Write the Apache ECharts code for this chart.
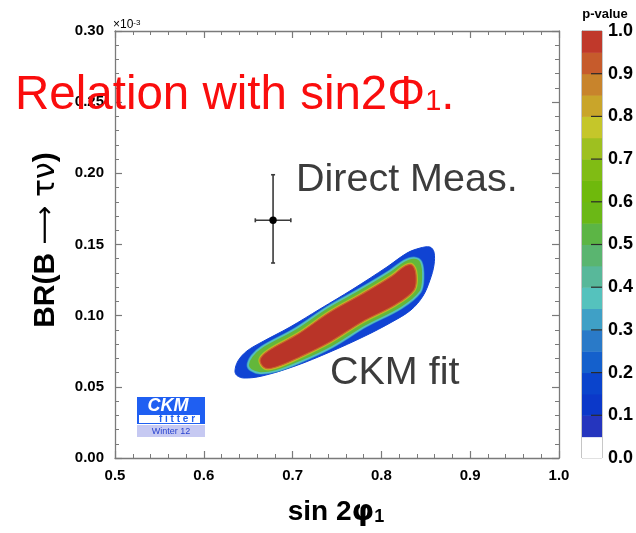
<!DOCTYPE html>
<html>
<head>
<meta charset="utf-8">
<script src="https://cdn.jsdelivr.net/npm/echarts/dist/echarts.min.js"></script>
<style>
  html, body { margin: 0; padding: 0; background: #ffffff; }
  #chart { width: 636px; height: 533px; }
</style>
</head>
<body>
<div id="chart"></div>
<script>
// Axis ranges (BR in units of 1e-3)
const xRange = [0.5, 1.0];
const yRange = [0.0, 0.30];

// CKM fit p-value contours in (sin2phi1, BR x1e3) space
// p = 0.05 boundary
const contourP05 = [[0.6351,0.0611],[0.6385,0.0682],[0.6486,0.0752],[0.6655,0.0815],[0.6971,0.0920],[0.7309,0.1047],[0.7680,0.1187],[0.8063,0.1342],[0.8288,0.1440],[0.8435,0.1475],[0.8547,0.1482],[0.8592,0.1447],[0.8592,0.1356],[0.8547,0.1251],[0.8468,0.1138],[0.8333,0.1040],[0.8119,0.0956],[0.7815,0.0857],[0.7421,0.0745],[0.7027,0.0646],[0.6655,0.0576],[0.6453,0.0562],[0.6374,0.0579]];
// p = 0.45 boundary
const contourP45 = [[0.6498,0.0653],[0.6543,0.0717],[0.6655,0.0780],[0.7027,0.0906],[0.7399,0.1061],[0.7759,0.1187],[0.8097,0.1314],[0.8255,0.1384],[0.8367,0.1405],[0.8446,0.1377],[0.8468,0.1265],[0.8435,0.1166],[0.8221,0.1054],[0.7827,0.0927],[0.7444,0.0780],[0.7083,0.0674],[0.6813,0.0611],[0.6633,0.0597],[0.6532,0.0618]];
// p = 0.95 boundary
const contourP95 = [[0.6633,0.0689],[0.6723,0.0752],[0.7061,0.0871],[0.7421,0.1026],[0.7782,0.1152],[0.8119,0.1279],[0.8266,0.1349],[0.8345,0.1356],[0.8390,0.1286],[0.8367,0.1180],[0.8153,0.1075],[0.7782,0.0956],[0.7421,0.0815],[0.7083,0.0710],[0.6813,0.0639],[0.6689,0.0632]];

// Direct measurement with errors
const measX = [0.678];
const measY = [0.167];
const measXErr = [0.020];
const measYErrUp = [0.032];
const measYErrDown = [0.030];

// p-value colour scale
const colorbarEdges = [0,0.05,0.10,0.15,0.20,0.25,0.30,0.35,0.40,0.45,0.50,0.55,0.60,0.65,0.70,0.75,0.80,0.85,0.90,0.95,1.00];
const colorbarColors = ['#ffffff','#2535be','#0b38c9','#0a44cc','#1460cc','#2a7ac8','#3fa0c6','#55c2bd','#58b89a','#5ab570','#5cb545','#6bb816','#6fb90c','#80bc14','#9ec020','#c5c62a','#c9a52a','#c8842c','#c65b2c','#c0392b'];
const colorbarTicks = [0.1,0.2,0.3,0.4,0.5,0.6,0.7,0.8,0.9];

// drawing layers for the filled contours (outer to inner)
const contourLayers = [
  { poly: contourP05, fill: '#1043d3', stroke: '#1043d3', width: 1 },
  { poly: contourP45, fill: '#63b73a', stroke: '#2c7ccf', width: 3.0 },
  { poly: contourP45, fill: '#63b73a', stroke: '#56c0bb', width: 1.7 },
  { poly: contourP95, fill: '#b93428', stroke: '#a2c223', width: 3.6 },
  { poly: contourP95, fill: '#b93428', stroke: '#cdb42a', width: 2.4 },
  { poly: contourP95, fill: '#b93428', stroke: '#c8652c', width: 1.2 }
];

const FONT = 'Liberation Sans, Arial, Helvetica, sans-serif';
const frameColor = '#7a7a7a';

function frameAxis(extra) {
  return Object.assign({
    type: 'value',
    gridIndex: 0,
    axisLine: { show: true, onZero: false, lineStyle: { color: frameColor, width: 1.3 } },
    axisTick: { show: true, inside: true, length: 7, lineStyle: { color: frameColor, width: 1.2 } },
    minorTick: { show: true, splitNumber: 5, length: 4, lineStyle: { color: frameColor, width: 1 } },
    splitLine: { show: false },
    minorSplitLine: { show: false },
    axisLabel: { show: false }
  }, extra);
}

const tickLabel = { show: true, color: '#000', fontSize: 15, fontWeight: 'bold', fontFamily: FONT };

const chart = echarts.init(document.getElementById('chart'), null, { renderer: 'canvas' });

const option = {
  animation: false,
  backgroundColor: '#ffffff',
  grid: [
    { left: 115, right: 77, top: 31, bottom: 75 },
    { left: 582, width: 22, top: 31, bottom: 75, show: true, borderColor: '#8a8a8a', borderWidth: 1 }
  ],
  xAxis: [
    frameAxis({ min: xRange[0], max: xRange[1], interval: 0.1, position: 'bottom',
      axisLabel: Object.assign({}, tickLabel, { margin: 10, formatter: v => v.toFixed(1) }) }),
    frameAxis({ min: xRange[0], max: xRange[1], interval: 0.1, position: 'top' }),
    { type: 'value', gridIndex: 1, min: 0, max: 1, show: false }
  ],
  yAxis: [
    frameAxis({ min: yRange[0], max: yRange[1], interval: 0.05, position: 'left',
      axisLabel: Object.assign({}, tickLabel, { margin: 11, formatter: v => v.toFixed(2) }) }),
    frameAxis({ min: yRange[0], max: yRange[1], interval: 0.05, position: 'right' }),
    { type: 'value', gridIndex: 1, min: 0, max: 1, interval: 0.1, position: 'right',
      axisLine: { show: true, lineStyle: { color: '#8a8a8a', width: 1 } },
      axisTick: { show: false },
      splitLine: { show: false },
      axisLabel: { show: true, color: '#000', fontSize: 18, fontWeight: 'bold', fontFamily: FONT, margin: 6,
        formatter: v => v.toFixed(1) } }
  ],
  series: [
    {
      type: 'custom',
      name: 'CKM fit',
      xAxisIndex: 0, yAxisIndex: 0,
      z: 3,
      data: contourLayers.map((l, i) => [i]),
      renderItem: function (params, api) {
        const layer = contourLayers[params.dataIndex];
        const pts = layer.poly.map(p => api.coord(p));
        return {
          type: 'polygon',
          shape: { points: pts, smooth: 0.35 },
          style: { fill: layer.fill, stroke: layer.stroke, lineWidth: layer.width, lineJoin: 'round' }
        };
      }
    },
    {
      type: 'custom',
      name: 'Direct Meas.',
      xAxisIndex: 0, yAxisIndex: 0,
      z: 4,
      data: measX.map((x, i) => [x, measY[i], measXErr[i], measYErrUp[i], measYErrDown[i]]),
      renderItem: function (params, api) {
        const x = api.value(0), y = api.value(1);
        const ex = api.value(2), eu = api.value(3), ed = api.value(4);
        const c = api.coord([x, y]);
        const l = api.coord([x - ex, y]), r = api.coord([x + ex, y]);
        const t = api.coord([x, y + eu]), b = api.coord([x, y - ed]);
        const ls = { stroke: '#3a3a3a', lineWidth: 1.6 };
        const cap = 2;
        return {
          type: 'group',
          children: [
            { type: 'line', shape: { x1: l[0], y1: l[1], x2: r[0], y2: r[1] }, style: ls },
            { type: 'line', shape: { x1: t[0], y1: t[1], x2: b[0], y2: b[1] }, style: ls },
            { type: 'line', shape: { x1: l[0], y1: l[1] - cap, x2: l[0], y2: l[1] + cap }, style: ls },
            { type: 'line', shape: { x1: r[0], y1: r[1] - cap, x2: r[0], y2: r[1] + cap }, style: ls },
            { type: 'line', shape: { x1: t[0] - cap, y1: t[1], x2: t[0] + cap, y2: t[1] }, style: ls },
            { type: 'line', shape: { x1: b[0] - cap, y1: b[1], x2: b[0] + cap, y2: b[1] }, style: ls },
            { type: 'circle', shape: { cx: c[0], cy: c[1], r: 3.7 }, style: { fill: '#000' } }
          ]
        };
      }
    },
    {
      type: 'custom',
      name: 'p-value',
      xAxisIndex: 2, yAxisIndex: 2,
      z: 2,
      data: colorbarColors.map((c, i) => [i]),
      renderItem: function (params, api) {
        const i = params.dataIndex;
        const p0 = api.coord([0, colorbarEdges[i + 1]]);
        const p1 = api.coord([1, colorbarEdges[i]]);
        return {
          type: 'rect',
          shape: { x: p0[0], y: p0[1], width: p1[0] - p0[0], height: p1[1] - p0[1] + 0.5 },
          style: { fill: colorbarColors[i] }
        };
      }
    },
    {
      type: 'custom',
      name: 'p-value ticks',
      xAxisIndex: 2, yAxisIndex: 2,
      z: 3,
      data: colorbarTicks.map(v => [1, v]),
      renderItem: function (params, api) {
        const p = api.coord([api.value(0), api.value(1)]);
        return {
          type: 'line',
          shape: { x1: p[0] - 11, y1: p[1], x2: p[0], y2: p[1] },
          style: { stroke: '#2a2a2a', lineWidth: 1.2 }
        };
      }
    }
  ],
  graphic: {
    elements: [
      // exponent of the y axis
      { type: 'text', z: 50, style: { x: 113, y: 31, verticalAlign: 'bottom', align: 'left',
          text: '{a|×10}{b|-3}',
          rich: { a: { fontSize: 12, fontFamily: FONT, fill: '#000' },
                  b: { fontSize: 8, fontFamily: FONT, fill: '#000', verticalAlign: 'top' } } } },
      // colour scale title
      { type: 'text', z: 50, style: { x: 605, y: 14, align: 'center', verticalAlign: 'middle',
          text: 'p-value', fontSize: 13, fontWeight: 'bold', fontFamily: FONT, fill: '#000' } },
      // axis titles
      { type: 'text', z: 50, style: { x: 336, y: 512, align: 'center', verticalAlign: 'middle',
          text: '{a|sin 2}{g|φ}{s|1}',
          rich: { a: { fontSize: 28, fontWeight: 'bold', fontFamily: FONT, fill: '#000' },
                  g: { fontSize: 29, fontWeight: 'bold', fontFamily: 'DejaVu Sans', fill: '#000' },
                  s: { fontSize: 18, fontWeight: 'bold', fontFamily: FONT, fill: '#000', verticalAlign: 'bottom' } } } },
      { type: 'text', z: 50, x: 46, y: 240, rotation: Math.PI / 2,
        style: { x: 0, y: 0, align: 'center', verticalAlign: 'middle',
          text: '{a|BR(B}{r| ⟶ }{g|τν}{a|)}',
          rich: { a: { fontSize: 30, fontWeight: 'bold', fontFamily: FONT, fill: '#000' },
                  r: { fontSize: 27, fontFamily: 'DejaVu Sans', fill: '#000' },
                  g: { fontSize: 30, fontFamily: 'DejaVu Sans', fill: '#000' } } } },
      // annotations
      { type: 'text', z: 50, style: { x: 296, y: 180, align: 'left', verticalAlign: 'middle',
          text: 'Direct Meas.', fontSize: 39.5, fontFamily: FONT, fill: '#3c3c3c' } },
      { type: 'text', z: 50, style: { x: 330, y: 373, align: 'left', verticalAlign: 'middle',
          text: 'CKM fit', fontSize: 39.5, fontFamily: FONT, fill: '#3c3c3c' } },
      // headline
      { type: 'text', z: 60, style: { x: 15, y: 96, align: 'left', verticalAlign: 'middle',
          text: '{m|Relation with sin2Φ}{s|1}{m|.}',
          rich: { m: { fontSize: 47.5, fontFamily: FONT, fill: '#fa0d0d' },
                  s: { fontSize: 29, fontFamily: FONT, fill: '#fa0d0d', verticalAlign: 'bottom', padding: [0, 0, 4, 0] } } } },
      // CKMfitter badge
      { type: 'rect', z: 40, shape: { x: 137, y: 397, width: 68, height: 27 }, style: { fill: '#1f5ff2' } },
      { type: 'rect', z: 41, shape: { x: 139, y: 415, width: 61, height: 8 }, style: { fill: '#ffffff' } },
      { type: 'text', z: 42, style: { x: 168, y: 406, align: 'center', verticalAlign: 'middle',
          text: 'CKM', fontSize: 18, fontStyle: 'italic', fontWeight: 'bold', fontFamily: FONT, fill: '#ffffff' } },
      { type: 'text', z: 42, style: { x: 177, y: 419.5, align: 'center', verticalAlign: 'middle',
          text: 'f i t t e r', fontSize: 10, fontWeight: 'bold', fontFamily: FONT, fill: '#1f5ff2' } },
      { type: 'rect', z: 40, shape: { x: 137, y: 425, width: 68, height: 12 }, style: { fill: '#c6c9f2' } },
      { type: 'text', z: 42, style: { x: 171, y: 431.5, align: 'center', verticalAlign: 'middle',
          text: 'Winter 12', fontSize: 9, fontFamily: FONT, fill: '#2a44d0' } }
    ]
  }
};

chart.setOption(option);
</script>
</body>
</html>
